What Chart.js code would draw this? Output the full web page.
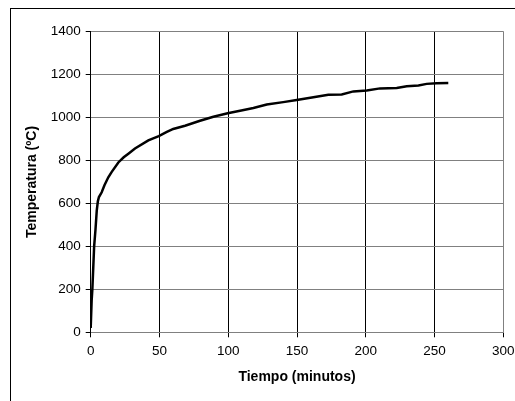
<!DOCTYPE html>
<html>
<head>
<meta charset="utf-8">
<script src="https://cdn.jsdelivr.net/npm/chart.js@4/dist/chart.umd.min.js"></script>
<style>
  html, body { margin: 0; padding: 0; background: #fff; overflow: hidden; }
  #wrap { position: relative; width: 515px; height: 401px; }
  #frame { position: absolute; left: 10px; top: 8px; width: 560px; height: 460px; border: 1px solid #000; }
  #chart { position: absolute; left: 0; top: 0; }
</style>
</head>
<body>
<div id="wrap">
  <div id="frame"></div>
  <canvas id="chart" width="515" height="401"></canvas>
</div>
<script>
// Curva temperatura-tiempo
var tiempo = [0, 0.7, 1.2, 2.5, 3.5, 4.4, 5.2, 6, 8, 10, 12.8, 15.3, 20.1, 24, 27.4, 32.2, 41.9, 49.5,
    55, 60, 68.6, 79.5, 89.2, 99.6, 108.6, 118.3, 128, 140, 149.8, 161.9, 172.8, 182.5, 191,
    200.7, 210.4, 222.5, 229.8, 238.3, 244.3, 251.5, 260];
var temperatura = [20, 150, 200, 400, 480, 567, 610, 630, 652, 685, 722, 747, 791, 815, 832, 856, 894, 914,
    932, 947, 962, 985, 1004, 1020, 1032, 1045, 1061, 1072, 1082, 1095, 1106, 1108, 1122,
    1126, 1136, 1138, 1146, 1149, 1157, 1160, 1161];

var xTicks = [0, 50, 100, 150, 200, 250, 300];
var yTicks = [0, 200, 400, 600, 800, 1000, 1200, 1400];

var puntos = tiempo.map(function (t, i) {
    return { x: t, y: temperatura[i] };
});

// right edge of the plot box
var plotBorder = {
    id: 'plotBorder',
    afterDraw: function (chart) {
        var a = chart.chartArea, ctx = chart.ctx;
        ctx.save();
        ctx.strokeStyle = '#808080';
        ctx.lineWidth = 1;
        ctx.beginPath();
        ctx.moveTo(Math.round(a.right) + 0.5, a.top);
        ctx.lineTo(Math.round(a.right) + 0.5, a.bottom);
        ctx.stroke();
        ctx.restore();
    }
};

var tickFont = { family: 'Liberation Sans, Arial, sans-serif', size: 13.5 };
var titleFont = { family: 'Liberation Sans, Arial, sans-serif', size: 14, weight: 'bold' };

function plain(value) {
    return String(value);
}

new Chart(document.getElementById('chart'), {
    type: 'line',
    data: {
        datasets: [{
            data: puntos,
            borderColor: '#000',
            borderWidth: 2.5,
            pointRadius: 0,
            tension: 0,
            fill: false
        }]
    },
    options: {
        responsive: false,
        animation: false,
        layout: { padding: { left: 0, top: 31.7, right: 11.7, bottom: 0 } },
        plugins: { legend: { display: false }, tooltip: { enabled: false } },
        scales: {
            x: {
                type: 'linear',
                min: 0,
                max: 300,
                afterBuildTicks: function (scale) {
                    scale.ticks = xTicks.map(function (v) { return { value: v }; });
                },
                afterFit: function (scale) {
                    scale.height = 401 - 332.3;
                    scale.paddingLeft = 0;
                    scale.paddingRight = 0;
                },
                ticks: { color: '#000', font: tickFont, padding: 6, maxRotation: 0, callback: plain },
                grid: { color: '#000', lineWidth: 1, tickLength: 5, tickColor: '#000' },
                border: { color: '#808080', width: 1 },
                title: {
                    display: true,
                    text: 'Tiempo (minutos)',
                    color: '#000',
                    font: titleFont,
                    padding: { top: 0, bottom: 15 }
                }
            },
            y: {
                min: 0,
                max: 1400,
                afterBuildTicks: function (scale) {
                    scale.ticks = yTicks.map(function (v) { return { value: v }; });
                },
                afterFit: function (scale) {
                    scale.width = 90.7;
                    scale.paddingTop = 0;
                    scale.paddingBottom = 0;
                },
                ticks: { color: '#000', font: tickFont, padding: 5, callback: plain },
                grid: { color: '#808080', lineWidth: 1, tickLength: 5, tickColor: '#000' },
                border: { color: '#000', width: 1 },
                title: {
                    display: true,
                    text: 'Temperatura (ºC)',
                    color: '#000',
                    font: titleFont,
                    padding: { top: 24, bottom: 0 }
                }
            }
        }
    },
    plugins: [plotBorder]
});
</script>
</body>
</html>
